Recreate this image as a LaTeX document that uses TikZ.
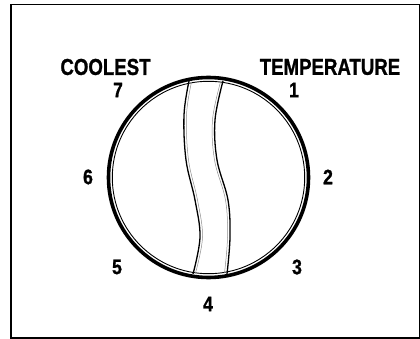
\documentclass[tikz,border=0pt]{standalone}
\usepackage{fontspec}
\setmainfont{Liberation Sans}
\newfontfamily\heavy[FakeBold=1.2]{Liberation Sans Bold}
\begin{document}
\begin{tikzpicture}[x=1pt,y=-1pt,
  lbl/.style={inner sep=0pt,font=\heavy\fontsize{23}{23}\selectfont},
  num/.style={inner sep=0pt,font=\heavy\fontsize{21}{21}\selectfont},
  band/.style={line width=1.3pt,black},
  bandin/.style={line width=0.5pt,black!45}]
\useasboundingbox (0,0) rectangle (420,339);
\draw[line width=1.8pt] (11,4.5) rectangle (419.6,337.8);
\coordinate (c) at (208.5,177.5);
\draw[line width=3.6pt] (c) circle[radius=100];
\draw[line width=0.9pt] (c) circle[radius=96.2];
% band
\draw[band] plot[smooth,tension=0.6] coordinates {(189,81) (184,115) (186,160) (195,200) (200,237) (193,274)};
\draw[band] plot[smooth,tension=0.6] coordinates {(223,81) (215,120) (217,160) (228,200) (230,237) (227,274)};
\draw[bandin] plot[smooth,tension=0.6] coordinates {(191.5,82) (186.5,115) (188.5,160) (197.5,200) (202.5,237) (195.5,273)};
\draw[bandin] plot[smooth,tension=0.6] coordinates {(220.5,82) (212.5,120) (214.5,160) (225.5,200) (227.5,237) (224.5,273)};
\node[lbl] (cool) at (105.5,67) {\scalebox{0.81}[1]{COOLEST}};
\node[lbl] (temp) at (330,67) {\scalebox{0.81}[1]{TEMPERATURE}};
\node[num] (n7) at (118,90) {\scalebox{0.84}[1]{7}};
\node[num] (n1) at (294,90) {\scalebox{0.84}[1]{1}};
\node[num] (n2) at (328,177) {\scalebox{0.84}[1]{2}};
\node[num] (n6) at (88,177) {\scalebox{0.84}[1]{6}};
\node[num] (n5) at (117,267) {\scalebox{0.84}[1]{5}};
\node[num] (n3) at (297,267) {\scalebox{0.84}[1]{3}};
\node[num] (n4) at (208,304) {\scalebox{0.84}[1]{4}};
\end{tikzpicture}
\end{document}
